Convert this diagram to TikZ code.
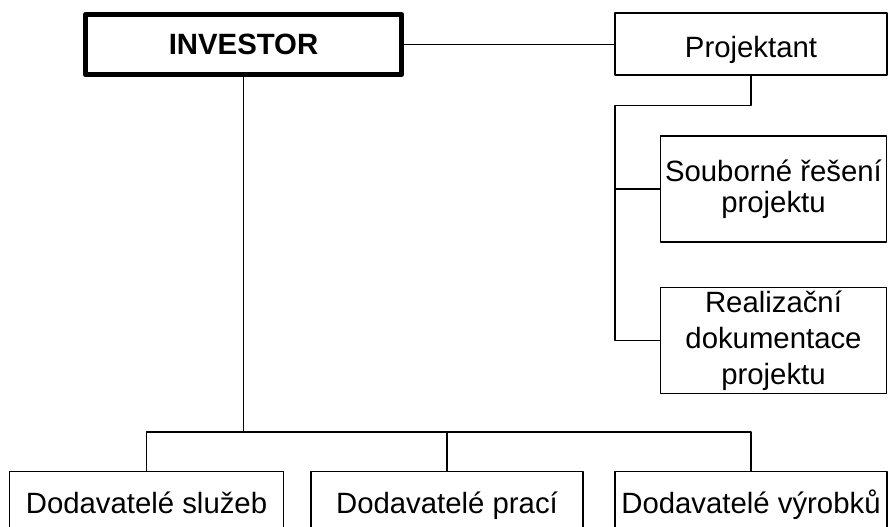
\documentclass[tikz,border=0pt]{standalone}
\usepackage{fontspec}
\setmainfont{Liberation Sans}
\begin{document}
\begin{tikzpicture}[x=0.75pt,y=-0.75pt,line join=round,font=\fontsize{22}{23.5}\selectfont,
		box/.style={draw,line width=0.8pt,inner sep=0pt,align=center},
		link/.style={line width=0.8pt}]
	\useasboundingbox (0,0) rectangle (888,527);
	\clip (0,0) rectangle (888,527);
	\node [box,line width=4pt,minimum width=237pt,minimum height=45pt] (investor) at (243.5,44.5) {\bfseries INVESTOR};
	\node [box,minimum width=204pt,minimum height=46.5pt,text height=21pt,text depth=0pt] (projektant) at (751,44) {Projektant};
	\node [box,minimum width=170pt,minimum height=79.5pt] (souborne) at (773.5,189) {Souborné řešení\\projektu};
	\node [box,minimum width=170pt,minimum height=80pt,font=\fontsize{22}{27}\selectfont] (realizacni) at (773.5,340.5) {Realizační\\dokumentace\\projektu};
	\node [box,anchor=north,minimum width=205pt,text height=31.5pt,text depth=30pt] (sluzeb) at (146.5,471) {Dodavatelé služeb};
	\node [box,anchor=north,minimum width=204pt,text height=31.5pt,text depth=30pt] (praci) at (447,471) {Dodavatelé prací};
	\node [box,anchor=north,minimum width=204pt,text height=31.5pt,text depth=30pt] (vyrobku) at (751,471) {Dodavatelé výrobků};
	\coordinate (pbus) at (615,105.5);
	\coordinate (dbus) at (243.5,432);
	\draw [link] (investor.east) -- (investor.east -| projektant.west);
	\draw [link] (projektant.south) |- (pbus) |- (realizacni.west);
	\draw [link] (pbus |- souborne.west) -- (souborne.west);
	\draw [link] (investor.south) -- (dbus);
	\draw [link] (sluzeb.north) |- (dbus) -| (vyrobku.north);
	\draw [link] (praci.north) -- (praci.north |- dbus);
\end{tikzpicture}
\end{document}
